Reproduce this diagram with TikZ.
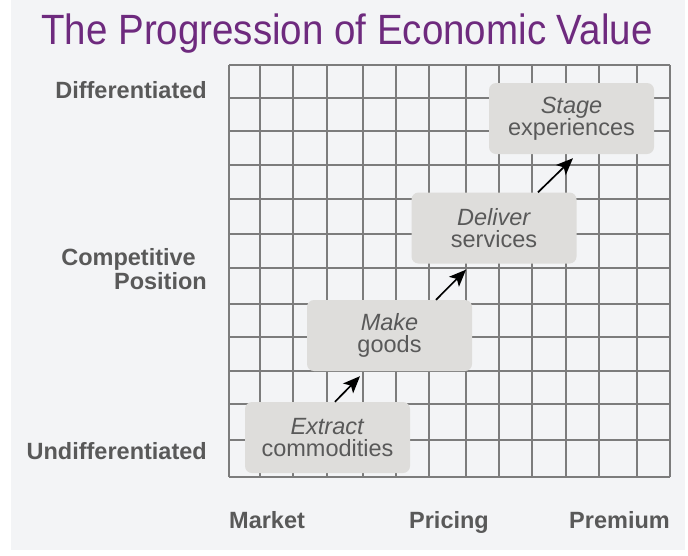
\documentclass[tikz,border=0pt]{standalone}
\usepackage{fontspec}
\setmainfont{Liberation Sans}
\usetikzlibrary{arrows.meta}
\definecolor{bgpanel}{HTML}{F3F4F6}
\definecolor{gridline}{HTML}{7C7C7C}
\definecolor{boxfill}{HTML}{DEDDDB}
\definecolor{labeltext}{HTML}{595959}
\definecolor{titlepurple}{HTML}{6E2A7E}

\begin{document}
\begin{tikzpicture}[x=1pt, y=-1pt,
    stage/.style={fill=boxfill, rounded corners=7pt, minimum width=165pt,
        minimum height=71pt, inner sep=0pt, align=center, text=labeltext,
        font=\fontsize{23.5}{22}\selectfont},
    axislabel/.style={inner sep=0pt, text=labeltext,
        font=\fontsize{23.5}{24}\selectfont\bfseries},
    upstep/.style={line width=1.7pt, -{Stealth[length=17pt, width=14pt, inset=4pt]}}]
    \useasboundingbox (0,0) rectangle (688,555);
    \fill[bgpanel] (11,0) rectangle (685,550);
    % title
    \node[anchor=base, text=titlepurple, inner sep=0pt,
        font=\fontsize{38.5}{40}\selectfont] (title) at (347,44)
        {\scalebox{1}[1.1]{The Progression of Economic Value}};
    % grid: 13 columns by 12 rows
    \foreach \x in {229,260,293,327,363,396,429,466,499,532,566,599,637,670}{
        \draw[gridline, line width=1.1pt] (\x,65) -- (\x,477);
    }
    \foreach \y in {65,98,131,165,199,234,268,304,337,371,404,440,477}{
        \draw[gridline, line width=1.1pt] (229,\y) -- (670,\y);
    }
    % vertical axis
    \node[axislabel, anchor=base east] (diff) at (207,98) {Differentiated};
    \node[axislabel, anchor=east, align=right] (comp) at (207,269)
        {Competitive\hspace*{11pt}\\Position};
    \node[axislabel, anchor=base east] (undiff) at (207,459) {Undifferentiated};
    % horizontal axis
    \node[axislabel, anchor=base west] (market) at (229,528) {Market};
    \node[axislabel, anchor=base] (pricing) at (449,528) {Pricing};
    \node[axislabel, anchor=base east] (premium) at (670,528) {Premium};
    % the four stages
    \node[stage] (extract) at (327.5,437.5) {\textit{Extract}\\commodities};
    \node[stage] (make) at (389.5,335.5) {\textit{Make}\\goods};
    \node[stage] (deliver) at (494,228) {\textit{Deliver}\\services};
    \node[stage] (experience) at (571.5,118.5) {\textit{Stage}\\experiences};
    \draw[upstep] ([xshift=7.5pt]extract.north) -- ([xshift=-29.5pt, yshift=-5pt]make.south);
    \draw[upstep] ([xshift=46.5pt]make.north) -- ([xshift=-28pt, yshift=-6pt]deliver.south);
    \draw[upstep] ([xshift=44pt]deliver.north) -- ([xshift=1.5pt, yshift=-4pt]experience.south);
\end{tikzpicture}
\end{document}
